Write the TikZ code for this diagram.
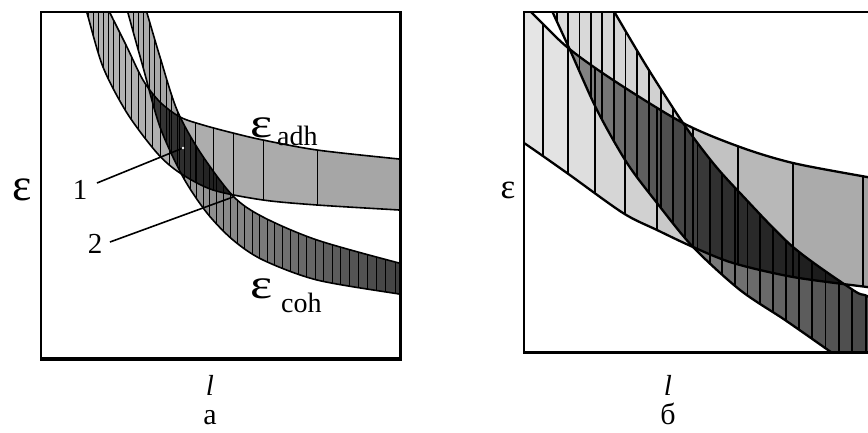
\documentclass[tikz,border=0pt]{standalone}
\usepackage{fontspec}
\setmainfont{Liberation Serif}
\begin{document}
\begin{tikzpicture}[x=1pt,y=-1pt,
  bnd/.style={line width=1.6pt,line join=round},
  bndb/.style={line width=2.3pt,line join=round},
  vla/.style={line width=0.8pt},
  vlb/.style={line width=1.6pt},
  txt/.style={inner sep=0pt,font=\fontsize{29}{29}\selectfont},
  captxt/.style={inner sep=0pt,font=\fontsize{30}{30}\selectfont},
  subtxt/.style={inner sep=0pt,font=\fontsize{28}{28}\selectfont},
  epslbl/.style={inner sep=0pt,font=\fontsize{42}{42}\selectfont,xscale=1.25},
  lead/.style={line width=1.6pt}]
\useasboundingbox (0,0) rectangle (868,432);

% ---------------- panel a ----------------
\def\adhA{plot[smooth] coordinates {(99,-10) (110,13) (126,45) (143,80) (160,102) (180,117) (203,125) (233,133) (263,140) (317,150) (399,159) (412,160)} -- plot[smooth] coordinates {(412,211) (399,210) (317,205) (263,200) (213,190) (180,173) (157,153) (127,113) (103,67) (87,13) (80,-10)} -- cycle}
\def\cohA{plot[smooth] coordinates {(122,-10) (128,13) (143,67) (160,127) (183,177) (207,213) (233,240) (263,260) (317,280) (399,294) (412,296)} -- plot[smooth] coordinates {(412,265) (399,263) (317,240) (263,217) (233,196) (200,152) (177,110) (160,57) (147,13) (140,-10)} -- cycle}

\begin{scope}
 \clip (42,13) rectangle (399,358);
 \begin{scope}
  \clip \adhA;
  \foreach \a/\b in {70/84,84/88,88/93,93/98,98/103,103/108,108/113,113/119,119/125,125/131,131/138,138/145,145/152,152/160,160/169,169/179,179/195,195/213,213/233,233/263,263/317,317/412}{
   \pgfmathtruncatemacro\g{30+6*((\a+\b)/2-87)/312}
   \fill[black!\g] (\a,0) rectangle (\b+0.4,400);}
 \end{scope}
 \begin{scope}
  \clip \cohA;
  \foreach \n in {-2,...,40}{
   \pgfmathsetmacro\a{128+5*\n+0.06*(\n)*(\n)}
   \pgfmathsetmacro\b{128+5*(\n+1)+0.06*(\n+1)*(\n+1)}
   \pgfmathtruncatemacro\g{min(76,max(28,30+45*((\a+\b)/2-128)/271))}
   \fill[black!\g] (\a,0) rectangle (\b+0.4,400);}
 \end{scope}
 \begin{scope}
  \clip \adhA;
  \clip \cohA;
  \foreach \n in {-2,...,40}{
   \pgfmathsetmacro\a{128+5*\n+0.06*(\n)*(\n)}
   \pgfmathsetmacro\b{128+5*(\n+1)+0.06*(\n+1)*(\n+1)}
   \pgfmathtruncatemacro\g{min(92,max(76,78+12*((\a+\b)/2-145)/90))}
   \fill[black!\g] (\a,0) rectangle (\b+0.4,400);}
 \end{scope}
 \begin{scope}
  \clip \adhA;
  \foreach \a in {84,88,93,98,103,108,113,119,125,131,138,145,152,160,169,179,195,213,233,263,317}{
   \draw[vla] (\a,0) -- (\a,400);}
 \end{scope}
 \begin{scope}
  \clip \cohA;
  \foreach \n in {-2,...,40}{
   \pgfmathsetmacro\a{128+5*\n+0.06*(\n)*(\n)}
   \draw[vla] (\a,0) -- (\a,400);}
 \end{scope}
 \draw[bnd] \adhA;
 \draw[bnd] \cohA;
\end{scope}
% frame a
\draw[line width=1.8pt] (41,12) rectangle (400,359);
\draw[line width=3pt] (400,11) -- (400,361);
\draw[line width=4pt] (40,359) -- (401.5,359);

% labels a
\node[inner sep=0pt,font=\fontsize{46}{46}\selectfont,anchor=base] (epsa) at (22,200) {ε};
\node[epslbl,anchor=base] (epsadh) at (262,137) {ε};
\node[subtxt,anchor=base west] (adh) at (277,145) {adh};
\node[epslbl,anchor=base] (epscoh) at (262,298) {ε};
\node[subtxt,anchor=base west] (coh) at (281,312) {coh};
\node[txt,anchor=base] (n1) at (80,199) {1};
\node[txt,anchor=base] (n2) at (95,253) {2};
\coordinate (s1) at (97,183);
\coordinate (p1) at (183,148);
\coordinate (s2) at (110,242);
\coordinate (p2) at (233,197);
\draw[lead] (s1) -- (p1);
\draw[lead] (s2) -- (p2);
\fill[white] (p1) circle (1.3);
\node[txt,anchor=base] (la) at (210,395) {\itshape l};
\node[captxt,anchor=base] (capa) at (210,424) {а};

% ---------------- panel b ----------------
\def\adhB{plot[smooth] coordinates {(508,-10) (532,13) (567,47) (613,80) (683,123) (740,147) (793,163) (867,177) (885,180)} -- plot[smooth] coordinates {(885,289) (867,287) (793,277) (733,263) (693,247) (657,230) (623,213) (567,173) (527,145) (505,131)} -- cycle}
\def\cohB{plot[smooth] coordinates {(543,-10) (553,13) (570,50) (597,110) (627,163) (657,203) (693,247) (740,290) (785,320) (828,350) (845,362)} -- (900,380) -- plot[smooth] coordinates {(900,312) (867,296) (853,290) (793,247) (740,193) (713,163) (683,123) (647,67) (615,13) (601,-12)} -- cycle}

\begin{scope}
 \clip (525,13) rectangle (868,351);
 \begin{scope}
  \clip \adhB;
  \foreach \a/\b in {505/543,543/568,568/595,595/625,625/657,657/693,693/738,738/793,793/863,863/900}{
   \pgfmathtruncatemacro\g{min(36,max(10,10+0.081*((\a+\b)/2-533)))}
   \fill[black!\g] (\a,0) rectangle (\b+0.4,400);}
 \end{scope}
 \begin{scope}
  \clip \cohB;
  \foreach \n in {-2,...,28}{
   \pgfmathsetmacro\a{546+11*\n+0.05*(\n)*(\n)}
   \pgfmathsetmacro\b{546+11*(\n+1)+0.05*(\n+1)*(\n+1)}
   \pgfmathsetmacro\m{(\a+\b)/2}
   \pgfmathtruncatemacro\g{ifthenelse(\m<690,14+0.04*(\m-553),min(78,52+0.12*(\m-700)))}
   \fill[black!\g] (\a,0) rectangle (\b+0.4,400);}
 \end{scope}
 \begin{scope}
  \clip \adhB;
  \clip \cohB;
  \foreach \n in {-2,...,28}{
   \pgfmathsetmacro\a{546+11*\n+0.05*(\n)*(\n)}
   \pgfmathsetmacro\b{546+11*(\n+1)+0.05*(\n+1)*(\n+1)}
   \pgfmathsetmacro\m{(\a+\b)/2}
   \pgfmathtruncatemacro\g{45+37*min(1,max(0,(\m-568)/152))+11*max(0,(\m-720)/143)}
   \fill[black!\g] (\a,0) rectangle (\b+0.4,400);}
 \end{scope}
 \begin{scope}
  \clip \adhB;
  \foreach \a in {543,568,595,625,657,693,738,793,863}{
   \draw[vlb] (\a,0) -- (\a,400);}
 \end{scope}
 \begin{scope}
  \clip \cohB;
  \foreach \n in {-2,...,28}{
   \pgfmathsetmacro\a{546+11*\n+0.05*(\n)*(\n)}
   \draw[vlb] (\a,0) -- (\a,400);}
 \end{scope}
 \draw[bndb] \adhB;
 \draw[bndb] \cohB;
\end{scope}
% frame b
\draw[line width=1.8pt] (524,12) -- (869,12);
\draw[line width=1.8pt] (524,11) -- (524,353);
\draw[line width=3.8pt] (523,352.5) -- (869,352.5);

% labels b
\node[inner sep=0pt,font=\fontsize{35}{35}\selectfont,anchor=base] (epsb) at (508,198) {ε};
\node[txt,anchor=base] (lb) at (668,395) {\itshape l};
\node[captxt,anchor=base] (capb) at (668,424) {б};
\end{tikzpicture}
\end{document}
